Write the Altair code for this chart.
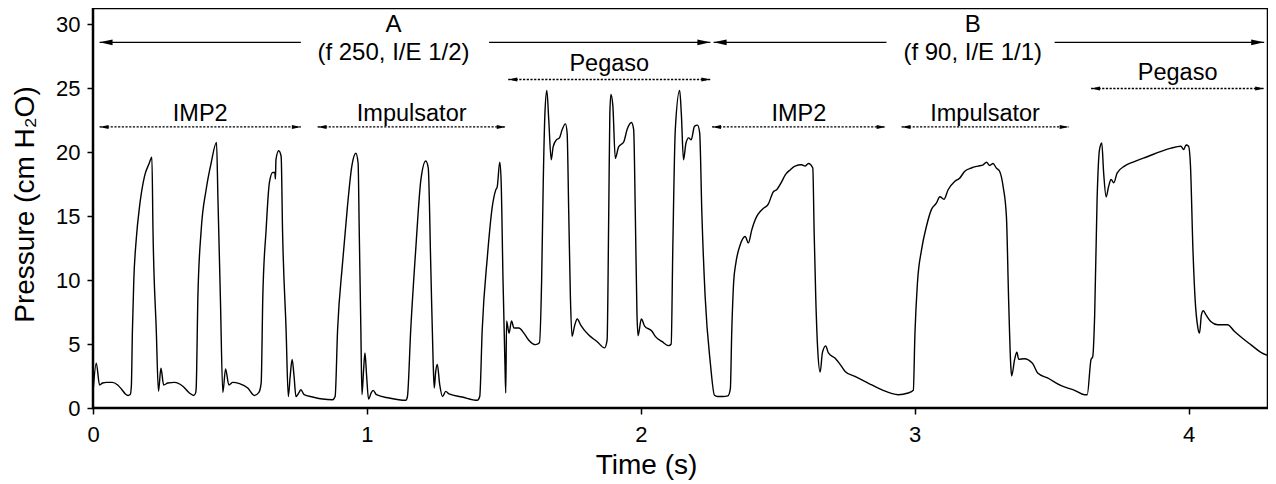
import altair as alt
import pandas as pd

# ---- pressure trace (time in s, pressure in cm H2O) ----
time_s = [
    0.000, 0.012, 0.024, 0.035, 0.050, 0.070, 0.090, 0.105, 0.118, 0.128, 0.136,
    0.140, 0.144, 0.149, 0.158, 0.170, 0.188, 0.205, 0.215, 0.219, 0.231, 0.239,
    0.248, 0.258, 0.273, 0.298, 0.328, 0.352, 0.368, 0.375,
    0.377, 0.383, 0.395, 0.413, 0.431, 0.451, 0.456, 0.465, 0.474,
    0.484, 0.496, 0.510, 0.535, 0.565, 0.589, 0.605,
    0.614, 0.620, 0.632, 0.644, 0.656, 0.664, 0.666, 0.668, 0.678, 0.687, 0.692, 0.705, 0.713,
    0.720, 0.727, 0.734, 0.741, 0.752, 0.759, 0.771, 0.802, 0.838, 0.875, 0.884,
    0.893, 0.911, 0.929, 0.945, 0.960, 0.968, 0.972, 0.978, 0.982,
    0.988, 0.993, 0.999, 1.006, 1.016, 1.023, 1.035, 1.081, 1.142, 1.148,
    1.160, 1.179, 1.197, 1.215, 1.224, 1.233, 1.242, 1.246,
    1.251, 1.257, 1.266, 1.276, 1.288, 1.300, 1.348, 1.403, 1.412,
    1.421, 1.440, 1.458, 1.470, 1.476, 1.485, 1.490, 1.497, 1.504, 1.507,
    1.510, 1.519, 1.528, 1.537, 1.555, 1.573, 1.591, 1.616, 1.630,
    1.638, 1.644, 1.650, 1.657, 1.664, 1.673, 1.680, 1.692, 1.703, 1.713, 1.725, 1.731,
    1.737, 1.743, 1.749, 1.758, 1.768, 1.780, 1.810, 1.840, 1.868, 1.877,
    1.883, 1.887, 1.891, 1.898, 1.907, 1.919, 1.938, 1.950, 1.966, 1.974,
    1.980, 1.986, 1.990, 2.002, 2.014, 2.041, 2.053, 2.077, 2.102, 2.111,
    2.117, 2.126, 2.142, 2.148, 2.156, 2.165, 2.175, 2.184, 2.196, 2.207, 2.215,
    2.223, 2.235, 2.254, 2.269, 2.280, 2.300, 2.318,
    2.327, 2.332, 2.339, 2.347, 2.363, 2.381, 2.393, 2.405, 2.423, 2.436, 2.448,
    2.466, 2.476, 2.484, 2.496, 2.515, 2.527, 2.545, 2.563, 2.587, 2.600, 2.612, 2.628,
    2.633, 2.639, 2.646, 2.655, 2.663, 2.675, 2.685, 2.709, 2.733, 2.746, 2.782,
    2.830, 2.879, 2.940, 2.976, 2.995,
    3.001, 3.010, 3.025, 3.043, 3.061, 3.079, 3.092, 3.107, 3.122, 3.146, 3.164,
    3.183, 3.207, 3.231, 3.250, 3.262, 3.274, 3.286, 3.298, 3.310, 3.323,
    3.335, 3.343, 3.351, 3.354, 3.365, 3.373, 3.380, 3.400, 3.430, 3.449, 3.485,
    3.535, 3.584, 3.620, 3.630,
    3.644, 3.650, 3.657, 3.666, 3.675, 3.683, 3.690, 3.699, 3.708, 3.717, 3.727,
    3.739, 3.766, 3.802, 3.851, 3.900, 3.936, 3.972, 3.982, 3.991, 4.000,
    4.007, 4.016, 4.024, 4.033, 4.040, 4.047, 4.054, 4.063, 4.081, 4.106, 4.142,
    4.167, 4.197, 4.227, 4.264, 4.303,
]
pressure = [
    1.2, 3.5, 1.8, 1.95, 2.0, 2.0, 1.8, 1.45, 1.1, 0.98, 1.05,
    1.7, 6.1, 10.0, 13.2, 15.75, 18.1, 19.1, 19.6, 13.9, 6.1, 1.3,
    3.1, 1.8, 1.95, 2.0, 1.7, 1.17, 0.98, 1.2,
    1.7, 8.7, 13.9, 17.05, 19.1, 20.75, 16.5, 8.7, 1.2,
    3.05, 1.8, 2.0, 1.9, 1.56, 0.98, 1.2,
    1.95, 8.7, 13.9, 17.6, 18.4, 18.4, 17.9, 19.4, 20.1, 19.65, 13.9, 6.1, 0.9,
    2.5, 3.8, 2.5, 0.9, 1.2, 1.43, 1.04, 0.86, 0.7, 0.65, 0.9,
    6.1, 11.3, 15.75, 18.9, 19.9, 19.1, 13.9, 6.1, 1.04,
    3.0, 4.3, 2.5, 0.7, 1.2, 1.38, 1.04, 0.78, 0.6, 0.9,
    6.1, 12.6, 17.8, 19.3, 18.75, 11.3, 3.5, 1.56,
    2.8, 3.4, 1.8, 0.9, 1.3, 1.1, 0.86, 0.6, 0.9,
    6.1, 11.85, 15.75, 17.0, 17.3, 19.2, 17.8, 10.0, 3.5, 1.17,
    6.8, 5.85, 6.8, 6.25, 6.25, 5.85, 5.3, 4.95, 5.1,
    10.0, 17.8, 23.0, 24.8, 22.5, 19.4, 20.4, 20.95, 21.1, 21.75, 22.2, 21.5,
    15.2, 8.7, 5.6, 6.4, 6.95, 6.5, 5.7, 5.2, 4.7, 5.3,
    15.2, 23.0, 24.5, 23.6, 19.5, 20.4, 20.8, 21.75, 22.3, 21.75,
    15.2, 7.4, 5.65, 6.95, 6.4, 6.0, 5.6, 5.2, 4.87, 5.0,
    12.6, 21.75, 24.8, 23.0, 19.4, 20.7, 21.1, 20.95, 22.0, 22.1, 21.5,
    15.2, 8.7, 3.5, 1.0, 0.9, 0.9, 0.95,
    1.5, 5.85, 9.8, 11.3, 12.75, 13.4, 12.9, 13.9, 14.95, 15.35, 15.6,
    15.95, 16.5, 16.9, 17.05, 17.7, 18.2, 18.6, 18.9, 19.0, 18.9, 19.1, 18.75,
    13.7, 8.5, 4.55, 2.8, 4.3, 4.85, 4.3, 3.9, 3.25, 2.86, 2.47,
    1.95, 1.43, 1.04, 1.17, 1.38,
    5.85, 9.75, 12.35, 14.2, 15.5, 16.0, 16.5, 16.3, 17.05, 17.7, 17.95,
    18.5, 18.75, 18.9, 19.0, 19.2, 18.95, 19.1, 18.75, 18.5, 17.3,
    14.95, 8.45, 3.25, 2.5, 3.8, 4.35, 3.8, 3.85, 3.5, 2.73, 2.35,
    1.74, 1.38, 1.04, 1.04,
    3.8, 4.0, 7.15, 16.3, 20.2, 20.7, 18.35, 16.5, 17.3, 17.85, 17.6,
    18.35, 18.9, 19.25, 19.65, 20.05, 20.3, 20.45, 20.2, 20.55, 20.45,
    18.9, 12.35, 8.45, 6.4, 5.85, 7.3, 7.6, 7.3, 6.75, 6.5, 6.5,
    6.0, 5.45, 4.95, 4.35, 4.0,
]

# ---- ventilator spans (dotted double arrows) ----
mode_labels = ["IMP2", "Impulsator", "Pegaso", "IMP2", "Impulsator", "Pegaso"]
mode_start = [0.024, 0.820, 1.516, 2.260, 2.952, 3.644]
mode_end = [0.759, 1.507, 2.254, 2.894, 3.562, 4.276]
mode_level = [21.96, 21.96, 25.66, 21.96, 21.96, 24.96]
mode_label_level = [22.45, 22.45, 26.35, 22.45, 22.45, 25.62]

# ---- settings groups (solid double arrows) ----
group_labels = ["A", "B"]
group_settings = ["(f 250, I/E 1/2)", "(f 90, I/E 1/1)"]
group_center = [1.097, 3.212]
group_start = [0.024, 2.266]
group_end = [2.254, 4.276]
group_gap_left = [0.759, 2.897]
group_gap_right = [1.446, 3.511]
group_level = [28.57, 28.57]
group_label_level = [29.37, 29.37]
group_settings_level = [27.17, 27.17]

FONT = "Liberation Sans"

trace = pd.DataFrame({"t": time_s, "p": pressure})

modes = pd.DataFrame({
    "label": mode_labels, "t0": mode_start, "t1": mode_end,
    "p": mode_level, "pl": mode_label_level,
})
modes["tc"] = (modes["t0"] + modes["t1"]) / 2

segs = []
for i in range(len(group_labels)):
    segs.append({"t0": group_start[i], "t1": group_gap_left[i], "p": group_level[i]})
    segs.append({"t0": group_gap_right[i], "t1": group_end[i], "p": group_level[i]})
solid_segs = pd.DataFrame(segs)

groups = pd.DataFrame({
    "label": group_labels, "settings": group_settings, "tc": group_center,
    "pl": group_label_level, "ps": group_settings_level,
})

heads = []
for i in range(len(mode_labels)):
    heads.append({"t": mode_start[i], "p": mode_level[i], "dir": "L", "sz": 81})
    heads.append({"t": mode_end[i], "p": mode_level[i], "dir": "R", "sz": 81})
for i in range(len(group_labels)):
    heads.append({"t": group_start[i], "p": group_level[i], "dir": "L", "sz": 169})
    heads.append({"t": group_end[i], "p": group_level[i], "dir": "R", "sz": 169})
heads = pd.DataFrame(heads)

xscale = alt.Scale(domain=[0, 4.29], nice=False, zero=False)
yscale = alt.Scale(domain=[0, 31.25], nice=False)

xaxis = alt.Axis(
    values=[0, 1, 2, 3, 4], format="d", title="Time (s)", grid=False, domain=False,
    ticks=True, tickSize=6, tickWidth=1.5, tickColor="black", labelFlush=False,
    labelFont=FONT, labelFontSize=22, labelColor="black", labelPadding=10,
    titleFont=FONT, titleFontSize=28, titleFontWeight="normal", titleColor="black",
    titleX=553, titleY=65, titleAlign="center", titleBaseline="alphabetic",
)
yaxis = alt.Axis(
    values=[0, 5, 10, 15, 20, 25, 30], format="d", title="Pressure (cm H₂O)",
    grid=False, domain=False, ticks=True, tickSize=6, tickWidth=1.5, tickColor="black",
    labelFlush=False,
    labelFont=FONT, labelFontSize=22, labelColor="black", labelPadding=7,
    titleFont=FONT, titleFontSize=28, titleFontWeight="normal", titleColor="black",
    titleX=-60, titleY=196, titleAngle=270, titleAlign="center", titleBaseline="alphabetic",
)

line = alt.Chart(trace).mark_line(
    color="black", strokeWidth=1.4, interpolate="monotone", clip=True
).encode(
    x=alt.X("t:Q", scale=xscale, axis=xaxis),
    y=alt.Y("p:Q", scale=yscale, axis=yaxis),
)

dotted = alt.Chart(modes).mark_rule(
    color="black", strokeWidth=1.4, strokeDash=[2.2, 1.5]
).encode(
    x=alt.X("t0:Q", scale=xscale), x2="t1:Q", y=alt.Y("p:Q", scale=yscale)
)

solid = alt.Chart(solid_segs).mark_rule(color="black", strokeWidth=1.3).encode(
    x=alt.X("t0:Q", scale=xscale), x2="t1:Q", y=alt.Y("p:Q", scale=yscale)
)

path_left = "M0,0L2,-0.45L2,0.45Z"
path_right = "M0,0L-2,-0.45L-2,0.45Z"
arrowheads = alt.Chart(heads).mark_point(
    filled=True, color="black", opacity=1, strokeWidth=0
).encode(
    x=alt.X("t:Q", scale=xscale),
    y=alt.Y("p:Q", scale=yscale),
    shape=alt.Shape("dir:N", scale=alt.Scale(domain=["L", "R"], range=[path_left, path_right]), legend=None),
    size=alt.Size("sz:Q", scale=None, legend=None),
)

mode_text = alt.Chart(modes).mark_text(
    font=FONT, fontSize=23.5, color="black", align="center", baseline="alphabetic"
).encode(x=alt.X("tc:Q", scale=xscale), y=alt.Y("pl:Q", scale=yscale), text="label:N")

group_text = alt.Chart(groups).mark_text(
    font=FONT, fontSize=24, color="black", align="center", baseline="alphabetic"
).encode(x=alt.X("tc:Q", scale=xscale), y=alt.Y("pl:Q", scale=yscale), text="label:N")

settings_text = alt.Chart(groups).mark_text(
    font=FONT, fontSize=24, color="black", align="center", baseline="alphabetic"
).encode(x=alt.X("tc:Q", scale=xscale), y=alt.Y("ps:Q", scale=yscale), text="settings:N")

chart = alt.layer(
    line, dotted, solid, arrowheads, mode_text, group_text, settings_text
).properties(
    width=1175, height=400,
    autosize=alt.AutoSizeParams(type="none"),
    padding={"left": 85, "top": 0, "right": 0, "bottom": 76},
    background="white",
).configure_view(
    stroke="black", strokeWidth=2.5
)

chart.save("out.html", embed_options={"renderer": "svg", "actions": False})
